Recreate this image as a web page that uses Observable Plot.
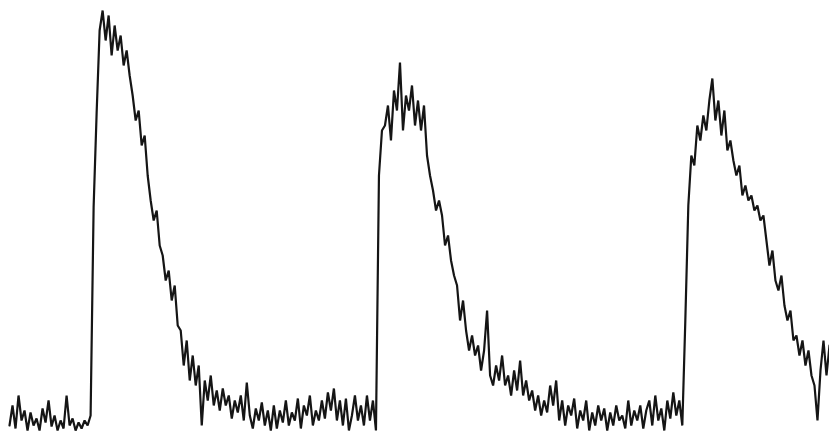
<!DOCTYPE html>
<html>
<head>
<meta charset="utf-8">
<script src="https://cdn.jsdelivr.net/npm/d3@7"></script>
<script src="https://cdn.jsdelivr.net/npm/@observablehq/plot@0.6"></script>
<style>
  html, body { margin: 0; padding: 0; background: #ffffff; }
  #chart svg { display: block; }
</style>
</head>
<body>
<div id="chart"></div>
<script>
// Sample times (sample index, one reading every 3 units)
const time = d3.range(9, 829, 3);

// Signal amplitude
const signal = [
  7, 27, 4, 37, 12, 22, 2, 20, 7, 14,
  2, 24, 10, 32, 6, 17, 2, 12, 4, 37,
  7, 14, 2, 10, 4, 12, 7, 17, 225, 319,
  402, 422, 392, 417, 377, 407, 382, 397, 367, 382,
  357, 337, 312, 322, 287, 297, 257, 232, 212, 222,
  187, 177, 152, 162, 132, 147, 107, 102, 67, 92,
  52, 77, 47, 67, 7, 52, 32, 57, 27, 42,
  22, 44, 27, 37, 14, 32, 20, 37, 12, 50,
  17, 4, 24, 12, 30, 7, 22, 2, 27, 4,
  22, 10, 32, 7, 20, 12, 34, 4, 27, 17,
  37, 7, 22, 12, 32, 14, 40, 22, 44, 12,
  32, 7, 34, 2, 17, 37, 12, 27, 7, 37,
  12, 32, 2, 257, 302, 307, 327, 292, 342, 322,
  370, 302, 337, 322, 347, 307, 332, 302, 327, 277,
  257, 242, 222, 232, 217, 187, 197, 172, 157, 147,
  112, 132, 102, 82, 97, 77, 87, 62, 82, 122,
  57, 47, 67, 52, 77, 47, 57, 37, 62, 42,
  72, 37, 52, 32, 42, 22, 37, 17, 32, 20,
  47, 27, 52, 12, 32, 7, 27, 17, 34, 4,
  22, 12, 32, 2, 20, 7, 27, 12, 24, 2,
  20, 7, 27, 12, 17, 4, 32, 7, 22, 12,
  27, 4, 22, 32, 7, 37, 12, 24, 2, 32,
  14, 40, 17, 32, 7, 112, 227, 277, 267, 307,
  292, 317, 302, 332, 354, 312, 332, 297, 322, 282,
  292, 272, 257, 267, 237, 247, 232, 237, 222, 227,
  212, 217, 192, 167, 182, 152, 142, 157, 127, 112,
  122, 92, 97, 77, 92, 67, 82, 57, 47, 12,
  62, 92, 57, 87
];

const n = Math.min(time.length, signal.length);
const data = d3.range(n).map(i => ({ t: time[i], v: signal[i] }));

const chart = Plot.plot({
  width: 829,
  height: 432,
  margin: 0,
  x: { domain: [0, 828], axis: null },
  y: { domain: [0, 432], axis: null },
  marks: [
    Plot.line(data, {
      x: "t",
      y: "v",
      stroke: "#151515",
      strokeWidth: 2.2,
      strokeLinejoin: "miter",
      curve: "linear"
    })
  ]
});

document.getElementById("chart").appendChild(chart);
</script>
</body>
</html>
